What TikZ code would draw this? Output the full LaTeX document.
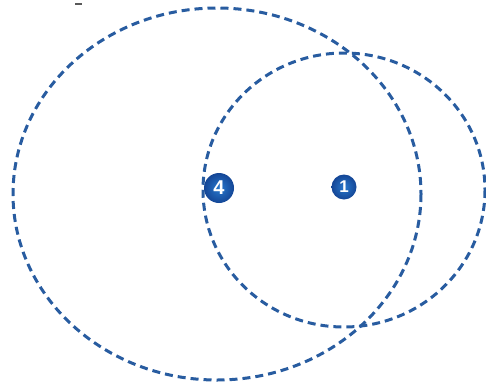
\documentclass[tikz,border=0pt]{standalone}
\usepackage{fontspec}
\setmainfont{Liberation Sans}
\definecolor{dashblue}{RGB}{40,92,160}
\definecolor{dotout}{RGB}{20,70,150}
\definecolor{dotin}{RGB}{40,120,205}
\begin{document}
\begin{tikzpicture}[x=1pt,y=-1pt,
  ring/.style={draw=dashblue,line width=3pt,dash pattern=on 8pt off 5pt},
  numdot/.style={circle,inner sep=0pt,inner color=dotin,outer color=dotout,text=white,font=\bfseries}]
\useasboundingbox (0,0) rectangle (486,383);
\draw[ring] (217,194) ellipse [x radius=204,y radius=186];
\draw[ring] (344,190) ellipse [x radius=141,y radius=137];
\node[numdot,minimum width=30pt,minimum height=28pt,font=\bfseries\fontsize{20}{20}\selectfont] (d4) at (219,188) {4};
\node[numdot,minimum size=25pt,font=\bfseries\fontsize{17}{17}\selectfont] (d1) at (344,187) {1};
\draw[gray!70!black,line width=1.5pt] (75,4) -- (82,4);
\end{tikzpicture}
\end{document}
